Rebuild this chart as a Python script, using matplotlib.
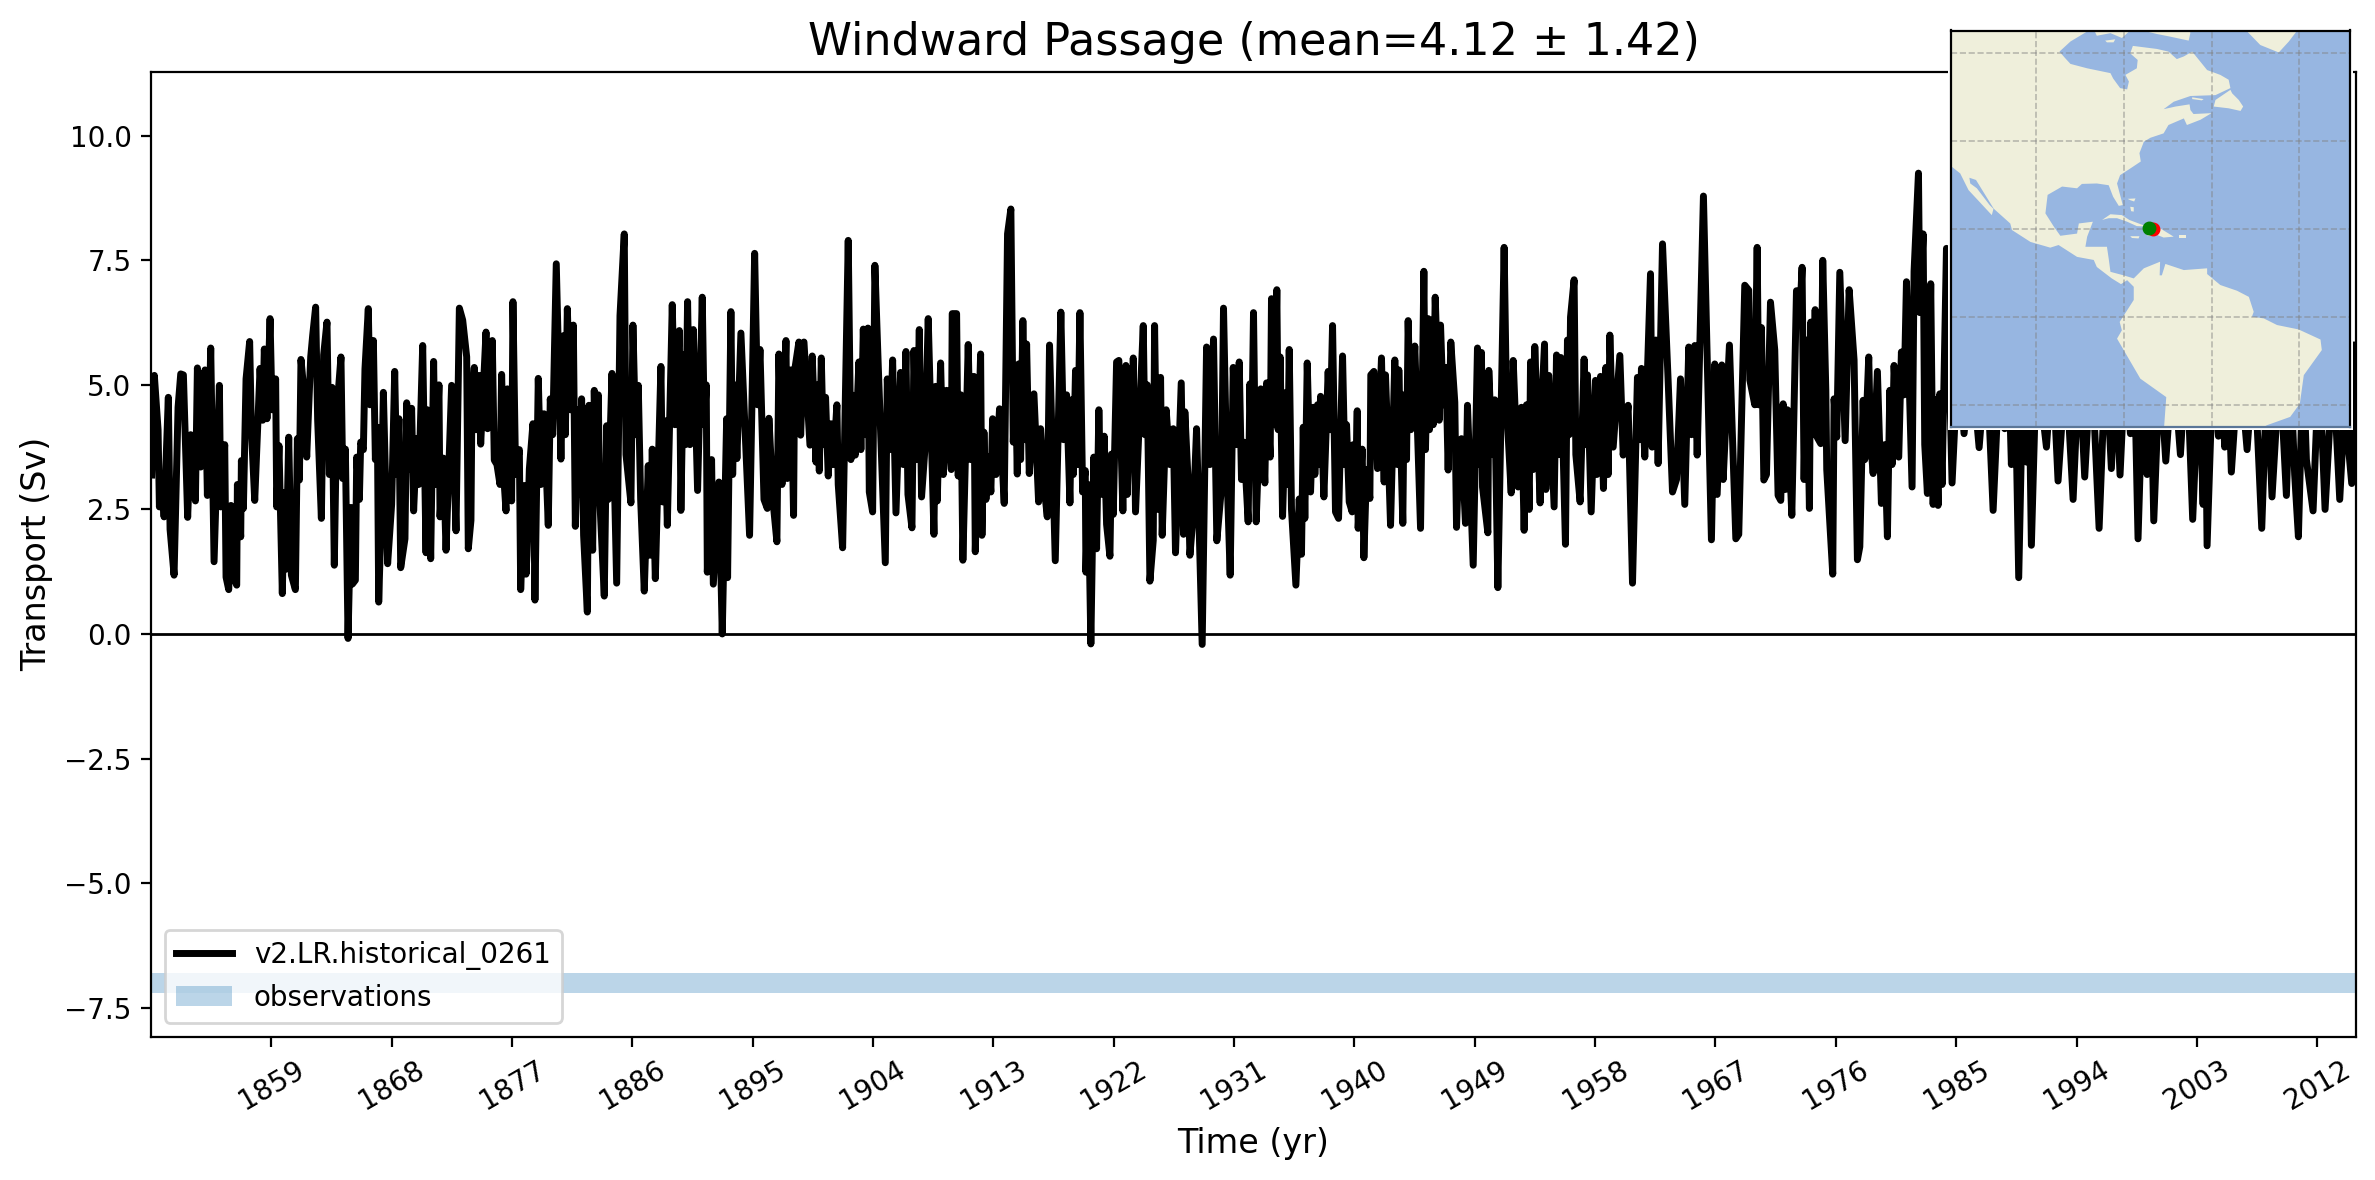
import numpy as np
import matplotlib.pyplot as plt
from matplotlib.patches import Rectangle

# values, one pair of lists per stretch of the record
years_a = [1850.05, 1850.25, 1850.53, 1850.63, 1850.80, 1850.98, 1851.30, 1851.43, 1851.73, 1852.03, 1852.23, 1852.43,
           1852.75, 1852.98, 1853.33, 1853.48, 1853.73, 1853.80, 1854.05, 1854.23, 1854.48, 1854.73, 1855.13, 1855.23,
           1855.53, 1855.63, 1855.83, 1856.00, 1856.18, 1856.43, 1856.48, 1856.73, 1856.78, 1856.93, 1857.13, 1857.40,
           1857.53, 1857.78, 1858.18, 1858.38, 1858.50, 1858.70, 1858.93, 1859.08, 1859.35, 1859.43, 1859.60, 1859.85,
           1860.00, 1860.13, 1860.33, 1860.53, 1860.83, 1860.98, 1861.13, 1861.25, 1861.48, 1861.68, 1861.98, 1862.13,
           1862.35, 1862.50, 1862.78, 1862.95, 1863.20, 1863.38, 1863.58, 1863.75, 1863.93, 1864.25, 1864.38, 1864.58,
           1864.78, 1865.00, 1865.10, 1865.33, 1865.43, 1865.63, 1865.73, 1865.93, 1866.05, 1866.30, 1866.43, 1866.68,
           1866.83, 1866.98, 1867.08, 1867.25, 1867.43, 1867.75, 1868.05, 1868.28, 1868.43, 1868.60, 1868.73, 1869.05,
           1869.18, 1869.38, 1869.55, 1869.70, 1869.93, 1870.08, 1870.38, 1870.63, 1870.73, 1870.98, 1871.20, 1871.33,
           1871.60, 1871.68, 1871.93, 1872.13, 1872.55, 1872.88, 1873.13, 1873.38]
transport_a = [3.19, 5.19, 4.10, 2.55, 3.20, 2.35, 4.75, 2.10, 1.18, 4.55, 5.22, 5.20,
               2.34, 4.00, 2.67, 5.34, 3.35, 4.50, 5.30, 2.78, 5.74, 1.45, 4.99, 2.55,
               3.80, 1.14, 0.89, 2.58, 1.14, 0.98, 3.00, 1.95, 3.48, 2.52, 5.12, 5.87,
               4.10, 2.68, 5.33, 4.29, 5.72, 4.32, 6.33, 4.50, 5.12, 2.55, 3.78, 0.81,
               2.84, 1.30, 3.95, 1.18, 0.89, 3.92, 3.09, 5.51, 4.85, 3.55, 5.56, 6.00,
               6.56, 4.30, 2.32, 5.60, 6.26, 3.20, 4.95, 1.38, 4.45, 5.56, 3.12, 3.71,
               -0.09, 2.54, 1.00, 1.08, 3.55, 2.70, 3.85, 3.70, 5.32, 6.53, 4.60, 5.89,
               3.50, 4.15, 0.64, 2.20, 4.85, 1.41, 2.60, 5.27, 3.20, 4.32, 1.33, 1.91,
               4.64, 3.30, 4.53, 2.47, 3.92, 3.00, 5.79, 1.63, 4.50, 1.51, 5.47, 3.00,
               5.00, 2.35, 3.53, 1.68, 4.99, 2.07, 6.54, 6.30]

years_b = [1873.68, 1873.80, 1874.00, 1874.08, 1874.25, 1874.38, 1874.60, 1874.73, 1875.13, 1875.25, 1875.60, 1875.75,
           1875.95, 1876.18, 1876.30, 1876.50, 1876.63, 1876.73, 1877.05, 1877.15, 1877.35, 1877.63, 1877.73, 1878.00,
           1878.13, 1878.20, 1878.38, 1878.65, 1878.80, 1879.05, 1879.25, 1879.48, 1879.80, 1879.95, 1880.13, 1880.40,
           1880.75, 1880.95, 1881.08, 1881.23, 1881.45, 1881.68, 1881.83, 1882.05, 1882.20, 1882.30, 1882.45, 1882.73,
           1882.85, 1883.13, 1883.25, 1883.40, 1883.55, 1883.65, 1884.00, 1884.18, 1884.30, 1884.58, 1884.93, 1885.18,
           1885.50, 1885.63, 1886.00, 1886.15, 1886.35, 1886.55, 1886.73, 1887.00, 1887.30, 1887.43, 1887.60, 1887.83,
           1888.25, 1888.38, 1888.55, 1888.73, 1889.10, 1889.30, 1889.63, 1889.75, 1889.95, 1890.10, 1890.25, 1890.43,
           1890.68, 1891.00, 1891.35, 1891.50, 1891.65, 1891.73, 1892.05, 1892.18, 1892.60, 1892.85, 1893.18, 1893.25,
           1893.50, 1893.63, 1893.78, 1893.95, 1894.25, 1894.90, 1895.28, 1895.50, 1895.68, 1895.98, 1896.23, 1896.35,
           1896.68, 1896.95, 1897.10]
transport_b = [5.56, 1.71, 2.28, 4.82, 5.35, 4.10, 5.19, 3.81, 6.06, 4.12, 5.89, 3.49,
               3.40, 3.00, 5.21, 3.00, 2.47, 4.92, 2.67, 6.67, 3.20, 3.70, 0.89, 2.98,
               1.20, 1.58, 3.31, 4.22, 0.68, 5.13, 3.00, 4.42, 2.18, 4.72, 4.00, 7.43,
               3.51, 5.99, 4.00, 6.53, 4.50, 6.20, 2.16, 4.50, 2.80, 4.72, 1.98, 0.44,
               4.59, 1.68, 4.89, 3.20, 4.80, 2.78, 0.76, 4.18, 2.70, 5.23, 1.02, 6.39,
               8.03, 3.60, 2.63, 6.20, 4.00, 4.99, 2.70, 0.86, 3.38, 1.58, 3.71, 1.11,
               5.37, 2.65, 4.28, 2.18, 6.61, 4.20, 6.09, 2.48, 5.60, 3.80, 6.67, 3.80,
               6.11, 2.88, 6.76, 4.20, 5.00, 1.24, 3.50, 1.00, 3.05, 0.00, 4.32, 1.13,
               6.47, 3.20, 5.00, 3.52, 6.04, 1.98, 7.64, 4.60, 5.71, 2.70, 2.52, 4.33,
               2.60, 1.85, 5.62]

years_c = [1897.33, 1897.63, 1897.73, 1898.00, 1898.20, 1898.28, 1898.60, 1898.73, 1898.98, 1899.43, 1899.60, 1899.88,
           1900.00, 1900.13, 1900.28, 1900.43, 1900.60, 1900.80, 1901.00, 1901.18, 1901.45, 1901.55, 1901.88, 1902.30,
           1902.50, 1902.68, 1902.83, 1903.10, 1903.25, 1903.43, 1903.63, 1903.78, 1903.88, 1904.13, 1904.30, 1904.55,
           1905.08, 1905.23, 1905.43, 1905.63, 1905.88, 1906.23, 1906.43, 1906.63, 1906.78, 1907.08, 1907.23, 1907.43,
           1907.63, 1907.80, 1908.05, 1908.30, 1908.73, 1908.85, 1908.98, 1909.23, 1909.43, 1909.68, 1910.03, 1910.10,
           1910.43, 1910.55, 1910.75, 1910.90, 1911.30, 1911.48, 1911.73, 1911.83, 1912.23, 1912.33, 1912.48, 1912.63,
           1912.80, 1913.00, 1913.13, 1913.38, 1913.65, 1914.00, 1914.25, 1914.50, 1914.68, 1914.85, 1914.98, 1915.08,
           1915.23, 1915.40, 1915.58, 1915.68, 1915.88, 1916.23, 1916.58, 1916.73, 1916.98, 1917.23, 1917.40, 1917.83,
           1918.25, 1918.45, 1918.68, 1918.93, 1919.05, 1919.18, 1919.35, 1919.50, 1919.68, 1919.88, 1920.08, 1920.13,
           1920.30, 1920.50, 1920.72]
transport_c = [3.00, 5.89, 3.12, 5.30, 2.38, 5.29, 5.86, 3.99, 5.86, 3.79, 5.58, 3.45,
               5.00, 3.27, 5.54, 3.80, 4.75, 3.17, 4.22, 3.40, 4.60, 3.00, 1.73, 7.90,
               3.50, 4.79, 3.59, 5.46, 3.70, 6.12, 4.00, 6.14, 2.85, 2.45, 7.40, 5.40,
               1.43, 5.12, 3.70, 5.50, 2.43, 5.25, 3.40, 5.67, 2.80, 2.13, 5.69, 3.50,
               6.11, 2.75, 3.70, 6.33, 2.00, 4.97, 2.67, 5.44, 3.20, 4.89, 3.30, 6.43,
               6.43, 3.17, 4.80, 1.48, 5.81, 3.50, 5.17, 1.65, 5.62, 1.98, 4.05, 2.70,
               3.55, 2.85, 4.32, 3.20, 4.52, 2.62, 8.03, 8.53, 3.85, 5.00, 3.21, 5.42,
               3.50, 6.29, 3.90, 5.82, 3.22, 4.82, 2.65, 4.12, 3.00, 2.35, 5.80, 1.47,
               6.46, 3.90, 4.80, 2.63, 4.70, 3.20, 5.29, 3.40, 6.45, 2.85, 3.28, 1.24,
               3.00, -0.20, 3.55]

years_d = [1920.93, 1921.10, 1921.25, 1921.50, 1921.68, 1921.93, 1922.05, 1922.18, 1922.43, 1922.60, 1922.90, 1923.13,
           1923.23, 1923.50, 1923.60, 1923.68, 1923.85, 1924.43, 1924.55, 1924.73, 1924.93, 1925.18, 1925.28, 1925.48,
           1925.73, 1925.85, 1926.15, 1926.43, 1926.68, 1926.85, 1927.28, 1927.45, 1927.55, 1927.80, 1927.93, 1928.18,
           1928.43, 1928.85, 1929.18, 1929.43, 1929.70, 1929.95, 1930.30, 1930.45, 1930.68, 1930.95, 1931.18, 1931.40,
           1931.63, 1931.80, 1931.98, 1932.30, 1932.43, 1932.55, 1932.70, 1932.90, 1933.25, 1933.55, 1933.68, 1933.95,
           1934.05, 1934.28, 1934.45, 1934.55, 1934.70, 1934.88, 1935.15, 1935.25, 1935.38, 1935.55, 1935.88, 1936.13,
           1936.30, 1936.43, 1936.55, 1936.73, 1936.98, 1937.18, 1937.30, 1937.50, 1937.58, 1937.73, 1937.98, 1938.30,
           1938.45, 1938.63, 1938.85, 1939.08, 1939.38, 1939.55, 1939.68, 1939.88, 1940.10, 1940.18, 1940.35, 1940.48,
           1940.55, 1940.85, 1940.98, 1941.18, 1941.43, 1941.50, 1941.73, 1942.00, 1942.30, 1942.50, 1942.60, 1942.80,
           1942.98, 1943.30, 1943.50, 1943.60, 1943.90, 1944.00, 1944.18, 1944.30]
transport_d = [1.71, 4.50, 2.80, 3.97, 2.20, 1.56, 3.61, 2.40, 5.46, 5.49, 2.47, 5.39,
               2.80, 5.00, 3.50, 5.54, 2.45, 6.19, 4.00, 5.00, 1.06, 1.88, 6.19, 2.50,
               5.15, 1.98, 4.50, 3.40, 4.12, 1.63, 5.04, 2.00, 4.46, 3.05, 1.58, 2.40,
               4.12, -0.21, 5.76, 3.40, 5.92, 1.87, 2.95, 6.54, 3.50, 1.18, 5.35, 3.80,
               5.46, 3.10, 3.85, 2.25, 5.02, 3.50, 6.45, 2.25, 4.92, 3.03, 5.04, 3.55,
               6.73, 4.20, 6.91, 4.10, 5.56, 2.36, 4.85, 3.00, 5.71, 2.50, 0.98, 2.71,
               1.60, 4.15, 2.32, 5.44, 2.85, 4.55, 3.20, 4.60, 3.40, 4.77, 2.75, 5.27,
               4.10, 6.19, 2.45, 2.32, 5.58, 3.40, 4.20, 2.65, 2.45, 3.80, 2.90, 4.48,
               2.12, 3.71, 1.53, 3.30, 2.72, 5.20, 5.27, 3.32, 5.54, 3.05, 5.20, 3.70,
               2.18, 5.50, 3.40, 5.30, 2.22, 4.80, 3.50, 6.29]

years_e = [1944.50, 1944.80, 1945.23, 1945.48, 1945.60, 1945.80, 1945.90, 1946.05, 1946.18, 1946.33, 1946.63, 1946.73,
           1946.93, 1947.13, 1947.30, 1947.50, 1947.80, 1947.93, 1948.13, 1948.30, 1948.60, 1948.75, 1949.18, 1949.50,
           1949.68, 1949.80, 1949.88, 1950.28, 1950.35, 1950.60, 1950.80, 1951.03, 1951.50, 1951.68, 1952.03, 1952.18,
           1952.55, 1952.80, 1953.00, 1953.18, 1953.38, 1953.48, 1953.68, 1953.80, 1954.20, 1954.30, 1954.53, 1954.63,
           1954.85, 1955.25, 1955.43, 1955.60, 1955.75, 1956.10, 1956.25, 1956.38, 1956.48, 1956.75, 1956.88, 1957.20,
           1957.50, 1957.63, 1957.75, 1958.03, 1958.35, 1958.45, 1958.73, 1958.95, 1959.13, 1959.30, 1959.43, 1959.68,
           1960.18, 1960.43, 1960.80, 1961.13, 1961.50, 1961.68, 1961.80, 1962.05, 1962.48, 1962.60, 1962.88, 1963.05,
           1963.38, 1963.80, 1964.13, 1964.43, 1964.73, 1965.05, 1965.35, 1965.55, 1965.80, 1965.98, 1966.45, 1967.05,
           1967.30, 1967.48, 1967.83, 1967.93]
transport_e = [4.10, 5.78, 2.12, 7.28, 3.70, 6.33, 4.10, 6.30, 4.20, 6.76, 4.29, 6.20,
               4.60, 5.35, 3.29, 5.86, 4.65, 2.14, 3.80, 3.92, 2.22, 4.59, 1.38, 5.74,
               3.40, 5.65, 2.95, 2.03, 5.29, 3.60, 4.70, 0.93, 7.76, 4.60, 2.83, 5.49,
               2.95, 4.55, 2.08, 4.60, 2.50, 5.46, 3.30, 5.77, 2.63, 4.50, 5.82, 2.90,
               5.19, 2.55, 5.60, 3.60, 5.55, 1.80, 5.90, 4.00, 6.36, 7.11, 3.60, 2.65,
               5.52, 3.80, 5.20, 2.45, 5.09, 3.20, 5.17, 2.92, 5.35, 3.20, 6.00, 3.75,
               5.59, 3.59, 4.59, 1.02, 5.15, 3.90, 5.33, 3.55, 7.23, 3.75, 5.90, 3.42,
               7.83, 5.10, 2.85, 3.10, 5.12, 2.60, 5.76, 4.00, 5.79, 3.59, 8.79, 1.89,
               5.42, 2.80, 5.40, 3.10]

# the highs after about 1985 sit behind the inset and are estimates
years_f = [1968.40, 1968.88, 1969.10, 1969.55, 1969.85, 1969.93, 1970.30, 1970.48, 1970.60, 1970.80, 1970.98, 1971.18,
           1971.48, 1971.80, 1972.05, 1972.25, 1972.43, 1972.60, 1972.75, 1973.08, 1973.43, 1973.68, 1973.85, 1974.00,
           1974.18, 1974.40, 1974.50, 1974.68, 1974.83, 1974.98, 1975.25, 1975.40, 1975.63, 1975.70, 1976.15, 1976.25,
           1976.45, 1976.68, 1977.08, 1977.38, 1977.75, 1978.00, 1978.18, 1978.43, 1978.55, 1978.85, 1978.98, 1979.18,
           1979.50, 1979.80, 1980.05, 1980.25, 1980.43, 1980.60, 1980.75, 1981.10, 1981.30, 1981.50, 1981.68, 1982.10,
           1982.25, 1982.58, 1982.68, 1982.93, 1983.05, 1983.25, 1983.50, 1983.68, 1983.85, 1984.05, 1984.18, 1984.35,
           1984.68, 1985.10, 1985.55, 1986.00, 1986.55, 1987.13, 1987.68, 1988.18, 1988.68, 1989.05, 1989.30, 1989.55,
           1989.80, 1990.10, 1990.43, 1990.68, 1990.85, 1991.05, 1991.43]
transport_f = [5.80, 1.91, 2.00, 7.00, 6.90, 5.10, 4.60, 7.76, 4.60, 6.15, 3.09, 3.20,
               6.66, 5.70, 2.78, 2.68, 4.62, 2.90, 4.50, 2.38, 6.89, 6.40, 7.36, 3.10,
               5.90, 2.52, 6.26, 4.00, 6.51, 3.95, 3.82, 7.50, 4.90, 3.30, 1.20, 4.72,
               3.95, 7.26, 3.88, 6.91, 5.50, 1.49, 1.75, 4.69, 3.50, 5.56, 3.90, 3.22,
               5.27, 2.62, 3.80, 1.95, 4.89, 3.40, 5.39, 3.55, 5.66, 4.80, 7.07, 2.95,
               7.28, 9.25, 6.45, 8.03, 3.80, 2.82, 7.03, 2.60, 4.70, 2.58, 4.82, 3.00,
               7.74, 3.03, 5.60, 4.02, 5.50, 3.74, 5.60, 2.48, 5.50, 4.12, 5.80, 3.40,
               5.60, 1.13, 5.40, 3.45, 5.60, 1.78, 5.50]

years_g = [1992.18, 1992.63, 1993.05, 1993.63, 1994.18, 1994.63, 1995.05, 1995.55, 1996.13, 1996.63, 1997.05, 1997.38,
           1997.70, 1998.08, 1998.48, 1998.75, 1999.05, 1999.43, 1999.73, 1999.98, 2000.23, 2000.68, 2001.13, 2001.68,
           2002.23, 2002.68, 2003.15, 2003.63, 2003.93, 2004.08, 2004.23, 2004.68, 2005.08, 2005.33, 2005.55, 2005.80,
           2006.05, 2006.63, 2007.23, 2007.75, 2008.33, 2008.73, 2009.10, 2009.68, 2010.18, 2010.48, 2010.80, 2011.08,
           2011.43, 2011.68, 2012.18, 2012.63, 2013.08, 2013.68, 2014.18, 2014.55, 2015.08, 2015.18]
transport_g = [3.75, 5.50, 3.07, 5.40, 2.70, 5.50, 3.15, 5.60, 2.12, 5.60, 3.32, 5.30,
               3.19, 5.40, 4.02, 5.70, 1.91, 5.30, 3.20, 5.60, 2.27, 5.40, 3.47, 5.50,
               3.60, 5.70, 2.30, 5.40, 2.60, 5.60, 1.77, 5.50, 3.97, 5.20, 3.75, 5.40,
               3.25, 5.60, 3.70, 5.60, 2.12, 5.30, 2.75, 5.40, 2.78, 5.30, 3.20, 1.95,
               5.50, 3.50, 2.47, 5.50, 2.50, 5.40, 2.70, 4.60, 3.02, 5.80]

obs_low, obs_high = -7.2, -6.8
year_ticks = list(range(1859, 2013, 9))

# inset map outlines, (lon, lat)
americas = [(-125, 70), (-87.6, 66), (-87.6, 65.3), (-92.1, 62.6), (-94.6, 60.3), (-93.3, 58.8), (-92.1, 57.5),
            (-88.3, 56.5), (-83.0, 55.4), (-82.4, 54.2), (-80.8, 52.0), (-79.2, 51.7), (-78.8, 53.5), (-79.6, 55.0),
            (-77.0, 56.5), (-76.8, 58.4), (-78.5, 59.9), (-77.9, 61.6), (-72.4, 60.9), (-69.8, 60.3), (-67.9, 58.6),
            (-66.3, 59.2), (-64.4, 60.3), (-61.0, 56.1), (-58.0, 55.0), (-56.1, 53.9), (-55.7, 52.0), (-59.1, 50.4),
            (-64.8, 50.2), (-68.6, 48.9), (-70.9, 47.2), (-68.2, 47.8), (-65.0, 48.3), (-64.8, 47.0), (-64.1, 46.1),
            (-60.0, 46.3), (-62.5, 44.8), (-65.6, 43.6), (-66.3, 45.1), (-69.8, 43.6), (-70.9, 41.7), (-73.9, 40.7),
            (-75.4, 39.8), (-76.4, 37.2), (-76.1, 35.3), (-78.5, 33.7), (-80.8, 32.2), (-81.5, 30.3), (-80.2, 25.4),
            (-81.1, 25.2), (-82.4, 27.3), (-83.4, 29.9), (-86.1, 30.3), (-89.5, 30.2), (-90.6, 29.2), (-94.0, 29.6),
            (-97.3, 27.7), (-97.8, 23.5), (-95.9, 20.5), (-94.4, 18.4), (-90.6, 18.9), (-90.2, 21.2), (-87.0, 21.6),
            (-88.3, 18.2), (-88.7, 15.9), (-83.8, 15.9), (-83.4, 13.2), (-83.0, 10.2), (-80.0, 9.4), (-77.7, 8.7),
            (-75.4, 11.0), (-71.7, 12.5), (-71.8, 9.4), (-71.3, 9.4), (-70.5, 12.0), (-66.3, 10.6), (-61.0, 11.0),
            (-61.0, 9.7), (-58.0, 7.2), (-54.2, 5.9), (-51.5, 4.5), (-50.4, 1.1), (-50.8, 0.0), (-48.1, -0.4),
            (-45.1, -1.9), (-40.2, -2.9), (-35.2, -5.2), (-34.9, -7.6), (-39.0, -13.3), (-39.9, -19.8), (-42.1, -22.8),
            (-47.4, -24.7), (-51.0, -26.6), (-70.9, -26.6), (-70.3, -18.3), (-76.2, -14.1), (-81.5, -5.0),
            (-80.4, -3.1), (-80.9, -1.2), (-77.7, 3.8), (-77.7, 6.8), (-79.2, 8.3), (-80.6, 7.4), (-82.7, 8.7),
            (-86.1, 11.3), (-86.8, 12.9), (-90.6, 13.6), (-94.8, 16.3), (-96.7, 15.7), (-101.2, 17.0), (-105.4, 19.7),
            (-105.8, 21.2), (-109.6, 24.6), (-110.0, 23.1), (-112.6, 25.9), (-115.3, 28.8), (-117.2, 32.6),
            (-119.1, 34.1), (-121.0, 34.9)]
islands = [
    [(-55.7, 51.6), (-59.1, 49.3), (-59.5, 47.8), (-56.1, 47.4), (-53.4, 46.8), (-52.8, 47.8), (-53.8, 49.3), (-55.3, 50.8)],
    [(-64.4, 49.9), (-61.8, 49.5), (-62.2, 49.2), (-64.4, 49.5)],
    [(-52.3, 66.8), (-52.3, 65.3), (-48.9, 61.8), (-44.7, 60.1), (-42.4, 62.6), (-40.5, 65.1), (-40.5, 66.8)],
    [(-86.8, 66), (-86.8, 65.4), (-86.1, 63.9), (-83.0, 64.5), (-80.4, 63.4), (-78.5, 65.1), (-78.5, 66)],
    [(-84.2, 62.8), (-81.9, 63.1), (-82.3, 62.4), (-83.8, 62.4)],
    [(-77.0, 65.4), (-72.4, 64.3), (-69.4, 63.7), (-65.2, 62.8), (-64.8, 64.6), (-65.6, 65.6)],
    [(-84.9, 22.0), (-83.0, 23.3), (-80.4, 23.1), (-78.7, 22.0), (-74.7, 20.5), (-77.0, 20.6), (-79.2, 21.6), (-81.5, 22.4), (-83.4, 22.4)],
    [(-73.0, 20.1), (-71.7, 20.1), (-68.6, 18.2), (-70.9, 18.0), (-72.4, 18.6), (-74.7, 18.3), (-73.9, 19.1)],
    [(-78.5, 18.3), (-76.4, 18.3), (-76.6, 17.8), (-78.1, 17.9)],
    [(-67.3, 18.5), (-65.7, 18.5), (-65.7, 18.0), (-67.3, 18.0)],
    [(-79.1, 26.8), (-77.3, 26.9), (-77.6, 26.2), (-78.5, 26.5)],
    [(-78.5, 25.0), (-77.7, 24.9), (-77.7, 23.9), (-78.3, 24.0)],
]
gulf_california = [(-115.1, 31.6), (-113.6, 31.1), (-111.5, 27.7), (-109.4, 24.3), (-110.5, 25.4), (-113.4, 29.2), (-114.9, 30.3)]
grid_lons = [-100, -80, -60, -40]
grid_lats = [60, 40, 20, 0, -20]
section_end = (-73.3, 19.85)
section_start = (-74.3, 20.1)

OCEAN = '#97b6e1'
LAND = '#efefdb'

years = np.concatenate([years_a, years_b, years_c, years_d, years_e, years_f, years_g])
transport = np.concatenate([transport_a, transport_b, transport_c, transport_d, transport_e, transport_f, transport_g])
# the years above were read with a slightly short scale, this puts them on the tick scale
years = 1850 + (years - 1850) * 164.9 / 165.4

fig = plt.figure(figsize=(11.875, 5.9), dpi=200)
ax = fig.add_axes([151 / 2375, 1 - 1036.5 / 1180, 2205 / 2375, 964.5 / 1180])

ax.plot(years, transport, color='k', lw=2.5, label='v2.LR.historical_0261')
ax.axhline(0, color='k', lw=1)
ax.axhspan(obs_low, obs_high, color='tab:blue', alpha=0.3, lw=0, label='observations')
ax.set_xlim(1850, 2014.9)
ax.set_ylim(-8.08, 11.28)
ax.set_xticks(year_ticks)
ax.tick_params(axis='x', labelrotation=30)
ax.set_xlabel('Time (yr)', fontsize=12)
ax.set_ylabel('Transport (Sv)', fontsize=12)
ax.set_title('Windward Passage (mean=4.12 \u00b1 1.42)', fontsize=16)
ax.legend(loc='lower left')

# white margin round the inset map
fig.add_artist(Rectangle((1948 / 2375, 1 - 429.5 / 1180), 404.5 / 2375, 401.5 / 1180,
                         transform=fig.transFigure, fc='white', ec='none', zorder=1))

# inset map of the section
axm = fig.add_axes([1950.5 / 2375, 1 - 427 / 1180, 399 / 2375, 396.5 / 1180], facecolor=OCEAN, zorder=2)
axm.fill(*zip(*americas), color=LAND, lw=0)
for isl in islands:
    axm.fill(*zip(*isl), color=LAND, lw=0)
axm.fill(*zip(*gulf_california), color=OCEAN, lw=0)
axm.plot(*section_end, 'o', color='red', ms=4)
axm.plot(*section_start, 'o', color='green', ms=4)
axm.set_xlim(-119.4, -28.6)
axm.set_ylim(-25.1, 65.1)
axm.set_xticks(grid_lons)
axm.set_yticks(grid_lats)
axm.tick_params(length=0, labelbottom=False, labelleft=False)
axm.grid(color='gray', alpha=0.5, ls='--', lw=0.6)
axm.spines['bottom'].set_color('#5a7698')

plt.savefig('out.png', dpi=200)
